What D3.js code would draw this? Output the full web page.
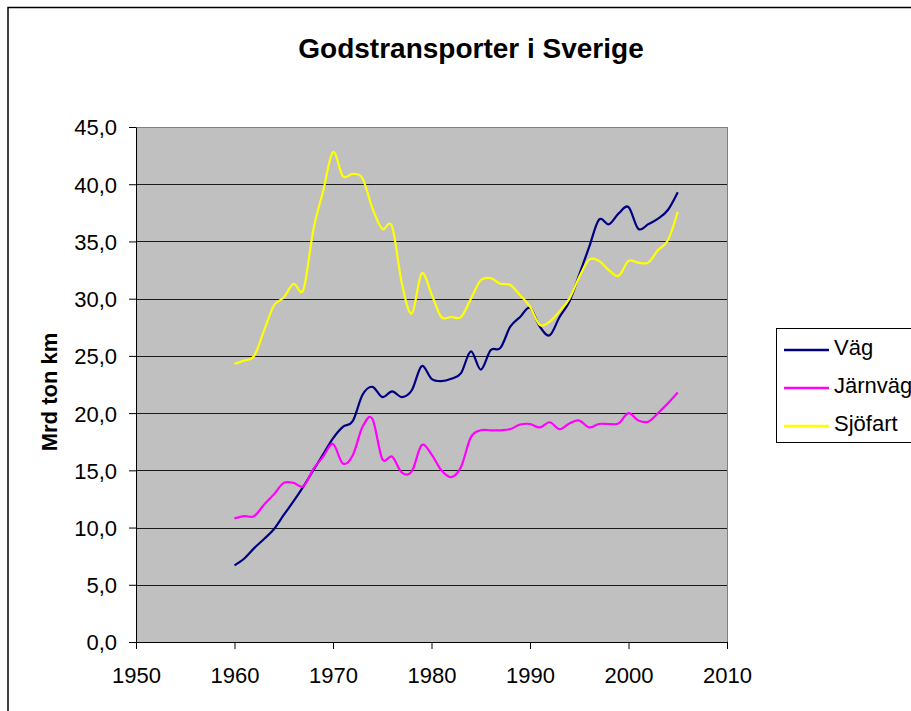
<!DOCTYPE html>
<html>
<head>
<meta charset="utf-8">
<script src="https://cdn.jsdelivr.net/npm/d3@7"></script>
<style>
    body { margin: 0; background: #fff; }
    svg { display: block; font-family: "Liberation Sans", Arial, sans-serif; }
    .axis text { font-size: 22px; fill: #000; }
    .axis path, .axis line { stroke: #000; }
</style>
</head>
<body>
<svg id="gods" width="911" height="711"></svg>
<script>

/* Godstransporter i Sverige, miljarder tonkm per år */

let years = [1960, 1961, 1962, 1963, 1964, 1965, 1966, 1967, 1968, 1969,
    1970, 1971, 1972, 1973, 1974, 1975, 1976, 1977, 1978, 1979,
    1980, 1981, 1982, 1983, 1984, 1985, 1986, 1987, 1988, 1989,
    1990, 1991, 1992, 1993, 1994, 1995, 1996, 1997, 1998, 1999,
    2000, 2001, 2002, 2003, 2004, 2005];

let vag = [6.7, 7.3, 8.2, 9.0, 9.85, 11.1, 12.3, 13.6, 15.0, 16.4,
    17.8, 18.8, 19.3, 21.6, 22.3, 21.4, 21.9, 21.4, 22.0, 24.1,
    23.0, 22.8, 23.0, 23.5, 25.4, 23.8, 25.5, 25.7, 27.55, 28.4,
    29.2, 27.55, 26.8, 28.4, 29.75, 32.1, 34.5, 36.9, 36.5, 37.45,
    38.0, 36.1, 36.5, 37.0, 37.75, 39.3];

let jarnvag = [10.8, 11.0, 11.0, 12.0, 12.9, 13.9, 13.9, 13.6, 15.1, 16.2,
    17.3, 15.6, 16.3, 18.8, 19.5, 16.0, 16.2, 14.8, 14.9, 17.2,
    16.4, 15.0, 14.4, 15.3, 17.9, 18.5, 18.5, 18.5, 18.6, 19.0,
    19.05, 18.75, 19.2, 18.6, 19.1, 19.35, 18.75, 19.05, 19.05, 19.1,
    20.0, 19.35, 19.25, 20.0, 20.85, 21.8];

let sjofart = [24.3, 24.6, 25.0, 27.2, 29.4, 30.1, 31.3, 30.8, 36.0, 39.4,
    42.8, 40.7, 40.9, 40.5, 37.9, 36.1, 36.3, 31.3, 28.7, 32.2,
    30.4, 28.4, 28.4, 28.4, 30.0, 31.6, 31.8, 31.3, 31.2, 30.3,
    29.3, 27.7, 28.0, 28.9, 30.0, 31.9, 33.4, 33.3, 32.5, 32.0,
    33.3, 33.15, 33.15, 34.25, 35.1, 37.6];

let seriesNames = ["Väg", "Järnväg", "Sjöfart"];
let seriesColors = ["#000080", "#FF00FF", "#FFFF00"];

let xTicks = [1950, 1960, 1970, 1980, 1990, 2000, 2010];
let yTicks = [0, 5, 10, 15, 20, 25, 30, 35, 40, 45];

let svg = d3.select("#gods");

let margin = { top: 127, left: 136 },
    width = 591,
    height = 515;

// Ramen runt diagrammet (går utanför bilden)
svg.append("rect")
    .attr("x", 8)
    .attr("y", 7.5)
    .attr("width", 1000)
    .attr("height", 1000)
    .attr("fill", "none")
    .attr("stroke", "#000")
    .attr("stroke-width", 1.5);

// Titel
svg.append("text")
    .attr("x", 471)
    .attr("y", 58)
    .attr("text-anchor", "middle")
    .style("font-size", "28px")
    .style("font-weight", "bold")
    .text("Godstransporter i Sverige");

let g = svg.append("g")
    .attr("transform", `translate(${margin.left},${margin.top})`);

// Skalor
let xScale = d3.scaleLinear()
    .domain([1950, 2010])
    .range([0, width]);
let yScale = d3.scaleLinear()
    .domain([0, 45])
    .range([height, 0]);

// Grå plotyta
g.append("rect")
    .attr("width", width)
    .attr("height", height)
    .attr("fill", "#C0C0C0")
    .attr("stroke", "#808080")
    .attr("stroke-width", 1)
    .attr("shape-rendering", "crispEdges");

// Stödlinjer
g.selectAll(".grid")
    .data(yTicks.filter(function (d) { return d > 0 && d < 45; }))
    .enter()
    .append("line")
    .attr("class", "grid")
    .attr("x1", 0)
    .attr("x2", width)
    .attr("y1", function (d) { return Math.round(yScale(d)) + 0.5; })
    .attr("y2", function (d) { return Math.round(yScale(d)) + 0.5; })
    .attr("stroke", "#1a1a1a")
    .attr("stroke-width", 1);

// Svenskt decimalkomma
let sv = d3.formatLocale({ decimal: ",", thousands: " ", grouping: [3], currency: ["", " kr"] });

let yAxis = d3.axisLeft(yScale)
    .tickValues(yTicks)
    .tickFormat(sv.format(".1f"))
    .tickSize(7)
    .tickSizeOuter(0)
    .tickPadding(12);

g.append("g")
    .attr("class", "axis")
    .call(yAxis)
    .selectAll("text")
    .attr("dy", "0.36em");

let xAxis = d3.axisBottom(xScale)
    .tickValues(xTicks)
    .tickFormat(d3.format("d"))
    .tickSize(7)
    .tickSizeOuter(0)
    .tickPadding(18);

g.append("g")
    .attr("class", "axis")
    .attr("transform", `translate(0,${height})`)
    .call(xAxis);

// Y-axelns rubrik
svg.append("text")
    .attr("transform", "translate(57,392) rotate(-90)")
    .attr("text-anchor", "middle")
    .style("font-size", "22px")
    .style("font-weight", "bold")
    .text("Mrd ton km");

// Linjer (utjämnade som i Excel)
let allSeries = [vag, jarnvag, sjofart];

let line = d3.line()
    .x(function (d, i) { return xScale(years[i]); })
    .y(function (d) { return yScale(d); })
    .curve(d3.curveCatmullRom.alpha(0));

g.selectAll(".serie")
    .data(allSeries)
    .enter()
    .append("path")
    .attr("class", "serie")
    .attr("d", function (d) { return line(d); })
    .attr("fill", "none")
    .attr("stroke", function (d, i) { return seriesColors[i]; })
    .attr("stroke-width", 2.2);

// Förklaring
let legend = svg.append("g")
    .attr("transform", "translate(776,328)");

legend.append("rect")
    .attr("x", 0.5)
    .attr("y", 0.5)
    .attr("width", 160)
    .attr("height", 114)
    .attr("fill", "#fff")
    .attr("stroke", "#000")
    .attr("stroke-width", 1);

let rows = legend.selectAll(".rad")
    .data(seriesNames)
    .enter()
    .append("g")
    .attr("class", "rad")
    .attr("transform", function (d, i) { return `translate(0,${22 + i * 38})`; });

rows.append("line")
    .attr("x1", 8)
    .attr("x2", 53)
    .attr("stroke", function (d, i) { return seriesColors[i]; })
    .attr("stroke-width", 2.5);

rows.append("text")
    .attr("x", 58)
    .attr("y", 5)
    .style("font-size", "22px")
    .text(function (d) { return d; });

</script>
</body>
</html>
